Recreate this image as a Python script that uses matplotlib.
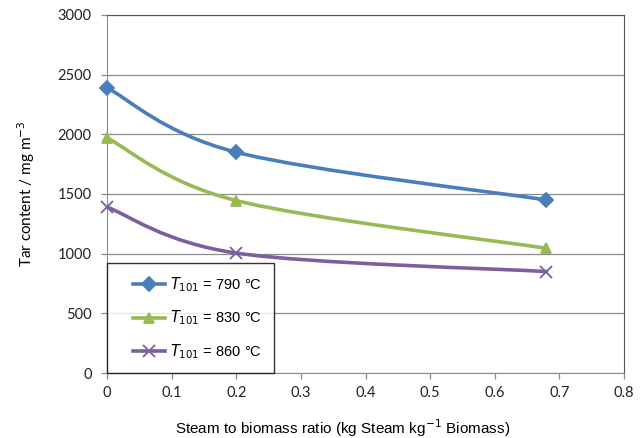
import numpy as np
import matplotlib
matplotlib.use("Agg")
import matplotlib.pyplot as plt
from matplotlib.path import Path
from matplotlib.patches import PathPatch
from matplotlib.lines import Line2D
from matplotlib.legend_handler import HandlerLine2D

ratio = [0.0, 0.2, 0.68]
tar_790 = [2390, 1850, 1450]
tar_830 = [1970, 1445, 1045]
tar_860 = [1390, 1005, 850]
labels = ["$T_{101}$ = 790 °C", "$T_{101}$ = 830 °C", "$T_{101}$ = 860 °C"]

colors = ["#4A7EBB", "#98B954", "#7D5FA0"]
markers = ["D", "^", "x"]


def smooth_path(x, y):
    # Excel-style smoothed line: cubic Bezier segments through the points
    p = np.column_stack([x, y]).astype(float)
    ext = np.vstack([p[0], p, p[-1]])
    verts = [p[0]]
    codes = [Path.MOVETO]
    for i in range(len(p) - 1):
        c1 = ext[i + 1] + (ext[i + 2] - ext[i]) / 6
        c2 = ext[i + 2] - (ext[i + 3] - ext[i + 1]) / 6
        verts += [c1, c2, ext[i + 2]]
        codes += [Path.CURVE4] * 3
    return Path(verts, codes)


fig = plt.figure(figsize=(6.43, 4.38), dpi=100)
ax = fig.add_axes([0.1664, 0.1484, 0.8041, 0.8174])

handles = []
for ys, c, m, lab in zip([tar_790, tar_830, tar_860], colors, markers, labels):
    ax.add_patch(PathPatch(smooth_path(ratio, ys), fill=False, edgecolor=c,
                           lw=2.6, zorder=3, capstyle="round"))
    ms = 7 if m != "x" else 8
    ax.plot(ratio, ys, linestyle="none", marker=m, color=c, ms=ms,
            mew=1.3, zorder=4, clip_on=False)
    handles.append(Line2D([], [], color=c, lw=2.6, marker=m, ms=ms, mew=1.3))

ax.set_xlim(0, 0.8)
ax.set_ylim(0, 3000)
ax.set_xticks(np.arange(0, 0.81, 0.1))
ax.set_xticklabels(["0", "0.1", "0.2", "0.3", "0.4", "0.5", "0.6", "0.7", "0.8"])
ax.set_yticks(np.arange(0, 3001, 500))
ax.yaxis.grid(True, color="#8C8C8C", lw=0.9)
ax.set_axisbelow(True)

for s in ["left", "bottom"]:
    ax.spines[s].set_color("#8C8C8C")
for s in ["top", "right"]:
    ax.spines[s].set_color("#555555")
ax.tick_params(direction="out", length=4, color="#8C8C8C", width=0.9,
               labelsize=10.5, labelcolor="#222222")
ax.tick_params(axis="y", pad=7)
ax.tick_params(axis="x", pad=5)
for t in ax.get_xticklabels() + ax.get_yticklabels():
    t.set_family("Lato")

ax.set_xlabel("Steam to biomass ratio (kg Steam kg$^{-1}$ Biomass)",
              family="Liberation Sans", fontsize=11)
ax.xaxis.set_label_coords(0.455, -0.125)
ax.set_ylabel("Tar content / mg m$^{-3}$", family="Lato", fontsize=11)
ax.yaxis.set_label_coords(-0.135, 0.5)

hmap = {h: HandlerLine2D(xpad=0.9) for h in handles}
leg = ax.legend(handles, labels, loc="lower left", bbox_to_anchor=(0, 0),
                borderaxespad=0, frameon=True, fancybox=False,
                prop={"family": "Liberation Sans", "size": 10.5},
                handlelength=3.15, labelspacing=1.0, borderpad=0.85,
                handletextpad=0.3, handler_map=hmap)
leg.get_frame().set_edgecolor("black")
leg.get_frame().set_linewidth(1.0)
leg.set_zorder(5)

fig.savefig("out.png", dpi=100)
